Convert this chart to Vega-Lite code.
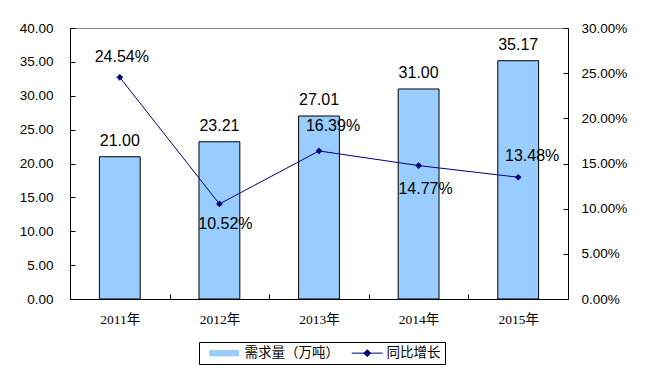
{
  "$schema": "https://vega.github.io/schema/vega-lite/v6.json",
  "width": 498,
  "height": 271,
  "autosize": {"type": "none"},
  "padding": {"left": 70, "top": 28, "right": 79, "bottom": 75},
  "background": "white",
  "data": {
    "values": [
      {"year": "2011年", "demand": 21.00, "growth": 0.2454},
      {"year": "2012年", "demand": 23.21, "growth": 0.1052},
      {"year": "2013年", "demand": 27.01, "growth": 0.1639},
      {"year": "2014年", "demand": 31.00, "growth": 0.1477},
      {"year": "2015年", "demand": 35.17, "growth": 0.1348}
    ]
  },
  "encoding": {
    "x": {
      "field": "year",
      "type": "nominal",
      "sort": null,
      "scale": {"paddingInner": 0, "paddingOuter": 0},
      "axis": {
        "title": null,
        "labelAngle": 0,
        "tickBand": "extent",
        "tickSize": -5,
        "labelPadding": 18,
        "domainColor": "black",
        "tickColor": "black",
        "labelColor": "black",
        "labelFont": "'Liberation Serif', 'Noto Sans CJK SC'",
        "labelFontSize": 13.5
      }
    }
  },
  "layer": [
    {
      "encoding": {
        "y": {
          "field": "demand",
          "type": "quantitative",
          "scale": {"domain": [0, 40], "nice": false},
          "axis": {
            "title": null,
            "orient": "left",
            "values": [0, 5, 10, 15, 20, 25, 30, 35, 40],
            "format": ".2f",
            "grid": false,
            "tickSize": -5,
            "labelPadding": 22,
            "domainColor": "black",
            "tickColor": "black",
            "labelColor": "black",
            "labelFont": "Liberation Sans",
            "labelFontSize": 13.5
          }
        }
      },
      "layer": [
        {
          "mark": {"type": "bar", "stroke": "black", "strokeWidth": 1, "width": {"band": 0.41}},
          "encoding": {
            "color": {
              "datum": "需求量（万吨）",
              "scale": {"domain": ["需求量（万吨）", "同比增长"], "range": ["#99CCFF", "#000080"]},
              "legend": {
                "orient": "none",
                "legendX": 129,
                "legendY": 314,
                "direction": "horizontal",
                "title": null,
                "strokeColor": "black",
                "fillColor": "white",
                "padding": 4,
                "symbolSize": 100,
                "labelOffset": 28,
                "columnPadding": 6,
                "labelFont": "Noto Sans CJK SC",
                "labelFontSize": 13.5,
                "labelColor": "black",
                "labelLimit": 300,
                "encoding": {
                  "symbols": {
                    "shape": {"value": {"expr": "datum.value == '同比增长' ? 'M0,0H6.2M3.1,-0.7L3.8,0L3.1,0.7L2.4,0Z' : 'M0,-0.55H5.8V0.55H0Z'"}},
                    "fill": {"value": {"expr": "datum.value == '同比增长' ? '#000080' : '#99CCFF'"}},
                    "stroke": {"value": {"expr": "datum.value == '同比增长' ? '#000080' : '#000000'"}},
                    "strokeWidth": {"value": 1},
                    "opacity": {"value": 1},
                    "fillOpacity": {"value": 1}
                  }
                }
              }
            }
          }
        },
        {
          "mark": {"type": "text", "baseline": "alphabetic", "dy": -11, "font": "Liberation Sans", "fontSize": 16, "color": "black"},
          "encoding": {"text": {"field": "demand", "type": "quantitative", "format": ".2f"}}
        }
      ]
    },
    {
      "encoding": {
        "y": {
          "field": "growth",
          "type": "quantitative",
          "scale": {"domain": [0, 0.3], "nice": false},
          "axis": {
            "title": null,
            "orient": "right",
            "values": [0, 0.05, 0.1, 0.15, 0.2, 0.25, 0.3],
            "format": ".2%",
            "grid": false,
            "tickSize": -5,
            "labelPadding": 18,
            "domainColor": "black",
            "tickColor": "black",
            "labelColor": "black",
            "labelFont": "Liberation Sans",
            "labelFontSize": 13.5
          }
        }
      },
      "layer": [
        {
          "mark": {"type": "line", "strokeWidth": 1, "point": {"shape": "diamond", "size": 45, "filled": true}},
          "encoding": {"color": {"datum": "同比增长"}}
        },
        {
          "transform": [{"filter": "datum.year == '2011年'"}],
          "mark": {"type": "text", "baseline": "middle", "dx": 2, "dy": -20, "font": "Liberation Sans", "fontSize": 16, "color": "black"},
          "encoding": {"text": {"field": "growth", "type": "quantitative", "format": ".2%"}}
        },
        {
          "transform": [{"filter": "datum.year == '2012年'"}],
          "mark": {"type": "text", "baseline": "middle", "dx": 6, "dy": 20, "font": "Liberation Sans", "fontSize": 16, "color": "black"},
          "encoding": {"text": {"field": "growth", "type": "quantitative", "format": ".2%"}}
        },
        {
          "transform": [{"filter": "datum.year == '2013年'"}],
          "mark": {"type": "text", "baseline": "middle", "dx": 14, "dy": -25, "font": "Liberation Sans", "fontSize": 16, "color": "black"},
          "encoding": {"text": {"field": "growth", "type": "quantitative", "format": ".2%"}}
        },
        {
          "transform": [{"filter": "datum.year == '2014年'"}],
          "mark": {"type": "text", "baseline": "middle", "dx": 7, "dy": 23, "font": "Liberation Sans", "fontSize": 16, "color": "black"},
          "encoding": {"text": {"field": "growth", "type": "quantitative", "format": ".2%"}}
        },
        {
          "transform": [{"filter": "datum.year == '2015年'"}],
          "mark": {"type": "text", "baseline": "middle", "dx": 14, "dy": -21, "font": "Liberation Sans", "fontSize": 16, "color": "black"},
          "encoding": {"text": {"field": "growth", "type": "quantitative", "format": ".2%"}}
        }
      ]
    }
  ],
  "resolve": {"scale": {"y": "independent"}},
  "config": {
    "view": {"stroke": "#808080", "strokeWidth": 1}
  }
}
